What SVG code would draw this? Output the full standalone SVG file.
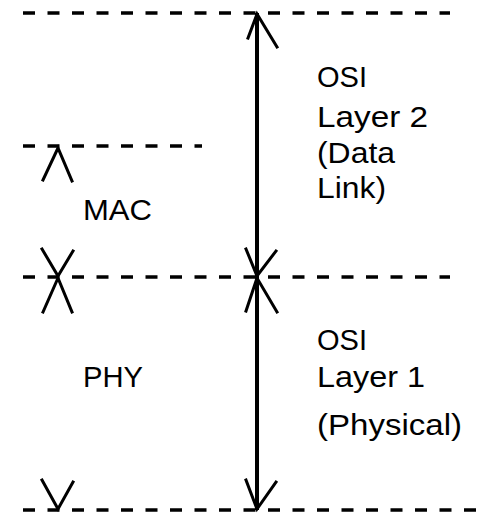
<svg xmlns="http://www.w3.org/2000/svg" width="483" height="515" viewBox="0 0 483 515">
<style>
.dash{stroke:#000;stroke-width:3.5;stroke-dasharray:12 12.5;fill:none}
.arr{stroke:#000;stroke-width:3;fill:none;stroke-linecap:square}
.shaft{stroke:#000;stroke-width:4;fill:none}
text{font-family:"Liberation Sans",Arial,sans-serif;font-size:29px;fill:#000}
</style>
<rect width="483" height="515" fill="#fff"/>
<g id="boundaries">
<line class="dash" x1="23" y1="13" x2="450" y2="13"/>
<line class="dash" x1="23" y1="146" x2="202" y2="146"/>
<line class="dash" x1="23" y1="277" x2="450" y2="277"/>
<line class="dash" x1="23" y1="510" x2="476" y2="510"/>
</g>
<g id="connectors">
<line class="shaft" x1="257" y1="13" x2="257" y2="510"/>
<polyline class="arr" points="248,38 257,14 277,47"/>
<polyline class="arr" points="246,249 257,276 276,251"/>
<polyline class="arr" points="246,311 257,278 277,312"/>
<polyline class="arr" points="246,480 257,509 276,482"/>
<polyline class="arr" points="43,180 58,148 72,181"/>
<polyline class="arr" points="42,249 58,276 73,251"/>
<polyline class="arr" points="43,312 58,278 72,312"/>
<polyline class="arr" points="42,480 58,509 73,482"/>
</g>
<g id="osi-layer2">
<text x="317" y="87" textLength="50" lengthAdjust="spacingAndGlyphs">OSI</text>
<text x="317" y="127" textLength="111" lengthAdjust="spacingAndGlyphs">Layer 2</text>
<text x="317" y="163" textLength="78" lengthAdjust="spacingAndGlyphs">(Data</text>
<text x="317" y="198" textLength="69" lengthAdjust="spacingAndGlyphs">Link)</text>
</g>
<g id="mac">
<text x="83" y="220" textLength="69" lengthAdjust="spacingAndGlyphs">MAC</text>
</g>
<g id="phy">
<text x="83" y="387" textLength="60" lengthAdjust="spacingAndGlyphs">PHY</text>
</g>
<g id="osi-layer1">
<text x="317" y="350" textLength="50" lengthAdjust="spacingAndGlyphs">OSI</text>
<text x="317" y="387" textLength="108" lengthAdjust="spacingAndGlyphs">Layer 1</text>
<text x="317" y="435" textLength="145" lengthAdjust="spacingAndGlyphs">(Physical)</text>
</g>
</svg>
